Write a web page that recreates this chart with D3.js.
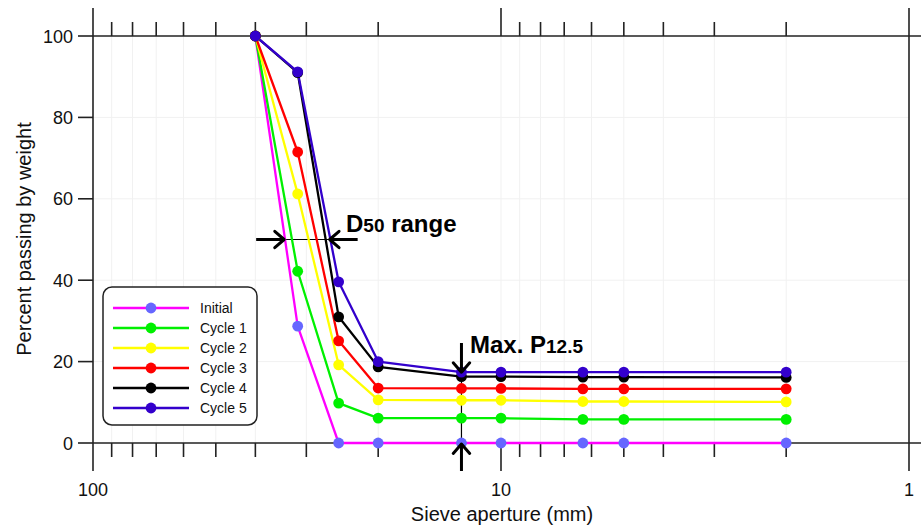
<!DOCTYPE html>
<html><head><meta charset="utf-8">
<script src="https://cdn.jsdelivr.net/npm/d3@7"></script>
<style>body{margin:0;background:#fff}svg{display:block;font-family:Arial,"Liberation Sans",sans-serif}</style>
</head><body>
<svg id="c" width="921" height="526"></svg>
<script>
const sieves = [40, 31.5, 25, 20, 12.5, 10, 6.3, 5, 2];
const seriesNames = ["Initial", "Cycle 1", "Cycle 2", "Cycle 3", "Cycle 4", "Cycle 5"];
const initial = [100, 28.7, 0, 0, 0, 0, 0, 0, 0];
const cycle1 = [100, 42.2, 9.8, 6.1, 6.1, 6.1, 5.8, 5.8, 5.8];
const cycle2 = [100, 61.2, 19.2, 10.6, 10.5, 10.5, 10.2, 10.2, 10.1];
const cycle3 = [100, 71.5, 25.1, 13.5, 13.4, 13.4, 13.3, 13.3, 13.3];
const cycle4 = [100, 91.0, 31.0, 18.7, 16.3, 16.3, 16.2, 16.2, 16.1];
const cycle5 = [100, 91.2, 39.6, 20.0, 17.4, 17.4, 17.4, 17.4, 17.4];
const lineColors = ["#ff00ff", "#00f000", "#ffff00", "#ff0000", "#000000", "#3300cc"];
const markerColors = ["#6666ff", "#00f000", "#ffff00", "#ff0000", "#000000", "#3300cc"];
const yTicks = [0, 20, 40, 60, 80, 100];
const xMajor = [100, 10, 1];
const xMinor = [90, 80, 70, 60, 50, 40, 30, 20, 9, 8, 7, 6, 5, 4, 3, 2];
const d50Range = [34.0, 26.3];   // D50 of Initial and Cycle 5 (mm)
const maxP = {size: 12.5, top: 17.4};

const allSeries = [initial, cycle1, cycle2, cycle3, cycle4, cycle5];
const svg = d3.select("#c");
const x = d3.scaleLog().domain([100, 1]).range([93, 909]);
const y = d3.scaleLinear().domain([0, 100]).range([443, 36]);
const axisCol = "#222";

// faint grid
const g = svg.append("g");
g.selectAll("line.gx").data(xMinor.concat([10])).join("line")
  .attr("x1", d => x(d)).attr("x2", d => x(d)).attr("y1", y(100)).attr("y2", y(0))
  .attr("stroke", "#f1f1f1").attr("stroke-width", 1);
g.selectAll("line.gy").data(yTicks.slice(1, -1)).join("line")
  .attr("x1", x(100)).attr("x2", x(1)).attr("y1", d => y(d)).attr("y2", d => y(d))
  .attr("stroke", "#f1f1f1").attr("stroke-width", 1);

// axes
const ax = svg.append("g").attr("stroke", axisCol).attr("stroke-width", 1.6);
[y(0), y(100)].forEach(yy => ax.append("line").attr("x1", x(100)).attr("x2", 921).attr("y1", yy).attr("y2", yy));
// left/right frame lines at 100 and 1
[100, 1].forEach(d => {
  ax.append("line").attr("x1", x(d)).attr("x2", x(d)).attr("y1", y(100) - 28).attr("y2", y(0) + 28);
});
// major tick at 10 (top and bottom)
ax.append("line").attr("x1", x(10)).attr("x2", x(10)).attr("y1", y(100) - 28).attr("y2", y(100));
ax.append("line").attr("x1", x(10)).attr("x2", x(10)).attr("y1", y(0)).attr("y2", y(0) + 28);
// minor ticks
xMinor.forEach(d => {
  ax.append("line").attr("x1", x(d)).attr("x2", x(d)).attr("y1", y(100) - 14).attr("y2", y(100));
  ax.append("line").attr("x1", x(d)).attr("x2", x(d)).attr("y1", y(0)).attr("y2", y(0) + 14);
});
// y ticks
yTicks.forEach(d => ax.append("line").attr("x1", x(100) - 15).attr("x2", x(100)).attr("y1", y(d)).attr("y2", y(d)));

// tick labels
svg.selectAll("text.yt").data(yTicks).join("text")
  .attr("x", 73).attr("y", d => y(d) + 6.5).attr("text-anchor", "end")
  .attr("font-size", 18).attr("fill", "#111").text(d => d);
svg.selectAll("text.xt").data(xMajor).join("text")
  .attr("x", d => x(d)).attr("y", 496).attr("text-anchor", "middle")
  .attr("font-size", 18).attr("fill", "#111").text(d => d);

// axis titles
svg.append("text").attr("transform", "translate(31,239) rotate(-90)").attr("text-anchor", "middle")
  .attr("font-size", 20).attr("fill", "#111").text("Percent passing by weight");
svg.append("text").attr("x", 502).attr("y", 521).attr("text-anchor", "middle")
  .attr("font-size", 20).attr("fill", "#111").text("Sieve aperture (mm)");

// annotation: max P12.5 thin line
svg.append("line").attr("x1", x(maxP.size)).attr("x2", x(maxP.size)).attr("y1", 343).attr("y2", 471)
  .attr("stroke", "#000").attr("stroke-width", 1.2);
// D50 thin line
svg.append("line").attr("x1", x(d50Range[0])).attr("x2", x(d50Range[1])).attr("y1", y(50)).attr("y2", y(50))
  .attr("stroke", "#000").attr("stroke-width", 1.2);

// series
const line = d3.line().x((d, i) => x(sieves[i])).y(d => y(d));
allSeries.forEach((s, k) => {
  svg.append("path").attr("d", line(s)).attr("fill", "none")
    .attr("stroke", lineColors[k]).attr("stroke-width", 2.3).attr("stroke-linejoin", "round");
});
allSeries.forEach((s, k) => {
  svg.append("g").selectAll("circle").data(s).join("circle")
    .attr("cx", (d, i) => x(sieves[i])).attr("cy", d => y(d)).attr("r", 5.4)
    .attr("fill", markerColors[k]);
});

// arrows
function arrow(x1, y1, x2, y2) {
  const a = Math.atan2(y2 - y1, x2 - x1), L = 12.5, w = 0.72;
  svg.append("line").attr("x1", x1).attr("y1", y1).attr("x2", x2).attr("y2", y2)
    .attr("stroke", "#000").attr("stroke-width", 3);
  const p = [[x2 - L * Math.cos(a - w), y2 - L * Math.sin(a - w)], [x2, y2], [x2 - L * Math.cos(a + w), y2 - L * Math.sin(a + w)]];
  svg.append("path").attr("d", d3.line()(p)).attr("fill", "none").attr("stroke", "#000")
    .attr("stroke-width", 3).attr("stroke-linecap", "round").attr("stroke-linejoin", "round");
}
arrow(x(d50Range[0]) - 28, y(50), x(d50Range[0]), y(50));
arrow(x(d50Range[1]) + 28, y(50), x(d50Range[1]), y(50));
arrow(x(maxP.size), 343, x(maxP.size), y(maxP.top));
arrow(x(maxP.size), 471, x(maxP.size), y(0) + 1);

// annotation text
const t1 = svg.append("text").attr("x", 346).attr("y", 232).attr("font-weight", "bold").attr("font-size", 24).attr("fill", "#000");
t1.append("tspan").text("D");
t1.append("tspan").attr("font-size", 19).text("50");
t1.append("tspan").text(" range");
const t2 = svg.append("text").attr("x", 470).attr("y", 353).attr("font-weight", "bold").attr("font-size", 24).attr("fill", "#000");
t2.append("tspan").text("Max. P");
t2.append("tspan").attr("font-size", 19).text("12.5");

// legend
const lg = svg.append("g");
lg.append("rect").attr("x", 103).attr("y", 287).attr("width", 154).attr("height", 138).attr("rx", 9)
  .attr("fill", "#fff").attr("stroke", "#222").attr("stroke-width", 1.5);
seriesNames.forEach((n, k) => {
  const yy = 308 + 20 * k;
  lg.append("line").attr("x1", 113).attr("x2", 189).attr("y1", yy).attr("y2", yy)
    .attr("stroke", lineColors[k]).attr("stroke-width", 2.3);
  lg.append("circle").attr("cx", 151).attr("cy", yy).attr("r", 5.4).attr("fill", markerColors[k]);
  lg.append("text").attr("x", 200).attr("y", yy + 5).attr("font-size", 14).attr("fill", "#111").text(n);
});
</script>
</body></html>
